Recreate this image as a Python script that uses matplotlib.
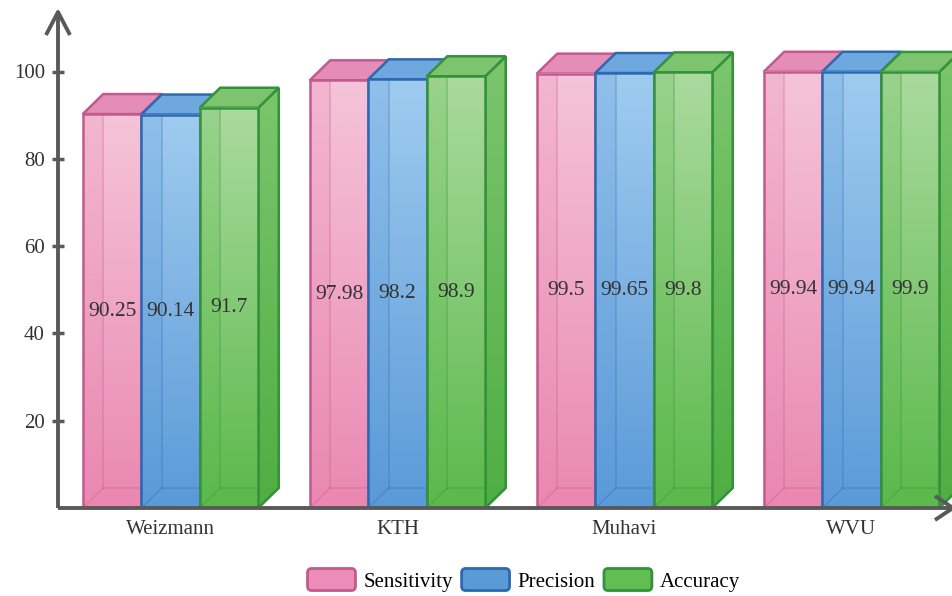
import numpy as np
import matplotlib
matplotlib.use("Agg")
import matplotlib.pyplot as plt
from matplotlib.colors import LinearSegmentedColormap
from matplotlib.patches import Polygon, Patch, FancyBboxPatch
from matplotlib.legend_handler import HandlerPatch

# values
datasets = ["Weizmann", "KTH", "Muhavi", "WVU"]
sensitivity = [90.25, 97.98, 99.5, 99.94]
precision = [90.14, 98.2, 99.65, 99.94]
accuracy = [91.7, 98.9, 99.8, 99.9]
series_names = ["Sensitivity", "Precision", "Accuracy"]

# colours per series: front top, front bottom, top face, side face, edge, legend face
styles = [
    dict(ftop="#F5C4D8", fbot="#EA88B2", top="#E48DB7", side="#E07BA8", edge="#C25A8E", leg="#EB8DB6"),
    dict(ftop="#9FCBEF", fbot="#5B9AD8", top="#6FA7DF", side="#4E8FD0", edge="#2C69B0", leg="#5B9BD5"),
    dict(ftop="#AADA9E", fbot="#5CB94C", top="#7CC56E", side="#4FAE42", edge="#33923A", leg="#62BD52"),
]

plt.rcParams["font.family"] = ["Liberation Serif", "DejaVu Serif"]
AXC = "#595959"
TXT = "#333333"

fig = plt.figure(figsize=(9.53, 5.96), dpi=100)
# axes placed so the y axis sits at x=58px and y=0 at 508px
ax = fig.add_axes([58 / 953, 88 / 596, 895 / 953, 496 / 596])

PX_GROUP = 227.0      # pixels between groups
PX_UNIT = 4.365       # pixels per value unit
W = 58.5 / PX_GROUP   # bar width
DX = 20.5 / PX_GROUP  # depth offset
DY = 20.0 / PX_UNIT
YTOP = 496 / PX_UNIT
XMIN = -112.5 / PX_GROUP
XMAX = 782.5 / PX_GROUP

grad = np.linspace(0, 1, 128).reshape(-1, 1)


def draw_bar(x, v, st, z):
    cm_front = LinearSegmentedColormap.from_list("f", [st["fbot"], st["ftop"]])
    cm_side = LinearSegmentedColormap.from_list("s", [st["side"], st["top"]])
    # side face
    side = Polygon([(x + W, 0), (x + W + DX, DY), (x + W + DX, v + DY), (x + W, v)],
                   closed=True, fc="none", ec=st["edge"], lw=1.8, zorder=z + 0.05)
    ax.add_patch(side)
    im = ax.imshow(grad, extent=[x + W, x + W + DX, 0, v + DY], origin="lower",
                   cmap=cm_side, aspect="auto", zorder=z, interpolation="bilinear")
    im.set_clip_path(side)
    # top face
    ax.add_patch(Polygon([(x, v), (x + DX, v + DY), (x + W + DX, v + DY), (x + W, v)],
                         closed=True, fc=st["top"], ec=st["edge"], lw=1.8, zorder=z + 0.05))
    # front face
    ax.imshow(grad, extent=[x, x + W, 0, v], origin="lower", cmap=cm_front,
              aspect="auto", zorder=z + 0.1, interpolation="bilinear")
    # inner faces seen through the glass
    ax.add_patch(Polygon([(x, 0), (x + DX, DY), (x + DX, v), (x, v)], closed=True,
                         fc=st["fbot"], ec="none", alpha=0.22, zorder=z + 0.12))
    ax.add_patch(Polygon([(x + DX, 0), (x + DX, DY), (x + W, DY), (x + W, 0)], closed=True,
                         fc=st["fbot"], ec="none", alpha=0.35, zorder=z + 0.12))
    ax.plot([x + DX, x + DX], [DY, v], color=st["edge"], lw=1.2, alpha=0.3, zorder=z + 0.15)
    ax.plot([x + DX, x + W], [DY, DY], color=st["edge"], lw=1.2, alpha=0.3, zorder=z + 0.15)
    ax.plot([x, x + DX], [0, DY], color=st["edge"], lw=1.2, alpha=0.3, zorder=z + 0.15)
    ax.add_patch(Polygon([(x, 0), (x, v), (x + W, v), (x + W, 0)], closed=True,
                         fc="none", ec=st["edge"], lw=1.8, zorder=z + 0.2))


values = [sensitivity, precision, accuracy]
z = 3
for i in range(len(datasets)):
    for j, vals in enumerate(values):
        x = i - 1.5 * W + j * W
        draw_bar(x, vals[i], styles[j], z)
        ax.text(x + W / 2, vals[i] / 2, str(vals[i]), ha="center", va="center",
                fontsize=15.5, color=TXT, zorder=100)
        z += 1

ax.set_xlim(XMIN, XMAX)
ax.set_ylim(0, YTOP)

for s in ["top", "right"]:
    ax.spines[s].set_visible(False)
for s in ["left", "bottom"]:
    ax.spines[s].set_linewidth(2.8)
    ax.spines[s].set_color(AXC)
    ax.spines[s].set_zorder(200)
    ax.spines[s].set_capstyle("butt")

ax.set_yticks([20, 40, 60, 80, 100])
ax.tick_params(axis="y", direction="inout", length=9, width=2.5, color=AXC,
               labelsize=15, labelcolor=TXT, pad=5)
ax.set_xticks(range(len(datasets)))
ax.set_xticklabels(datasets)
ax.tick_params(axis="x", length=0, labelsize=15, labelcolor=TXT, pad=9)

# arrow heads on the axes
ax.plot([XMIN - 12 / PX_GROUP, XMIN, XMIN + 12 / PX_GROUP],
        [YTOP - 23 / PX_UNIT, YTOP, YTOP - 23 / PX_UNIT],
        color=AXC, lw=2.8, clip_on=False, zorder=200, solid_capstyle="butt")
xa = (953 - 170.5) / PX_GROUP
ax.plot([xa - 18 / PX_GROUP, xa, xa - 18 / PX_GROUP],
        [12 / PX_UNIT, 0, -12 / PX_UNIT],
        color=AXC, lw=2.8, clip_on=False, zorder=200, solid_capstyle="butt")


def rounded_patch(legend, orig_handle, xdescent, ydescent, width, height, fontsize):
    return FancyBboxPatch((-xdescent, -ydescent), width, height,
                          boxstyle="round,pad=0,rounding_size=3")


handles = [Patch(facecolor=st["leg"], edgecolor=st["edge"], linewidth=2) for st in styles]
fig.legend(handles, series_names, loc="center", bbox_to_anchor=(524 / 953, 1 - 580 / 596),
           ncol=3, frameon=False, fontsize=15, handlelength=2.3, handleheight=1.25,
           columnspacing=0.4, handletextpad=0.4,
           handler_map={Patch: HandlerPatch(patch_func=rounded_patch)})

fig.savefig("out.png", dpi=100)
